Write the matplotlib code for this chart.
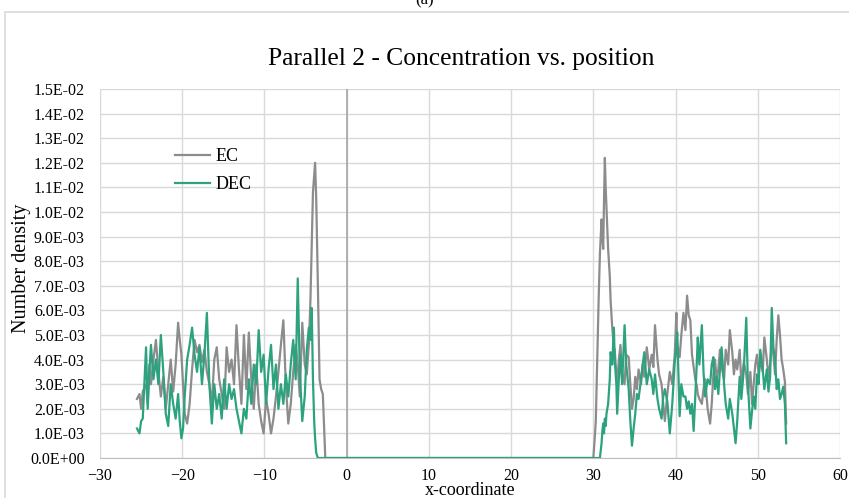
import numpy as np
import matplotlib
matplotlib.use("Agg")
import matplotlib.pyplot as plt
from matplotlib.patches import Rectangle

plt.rcParams['font.family'] = ['Liberation Serif', 'DejaVu Serif']

# values in units of 1E-03
left_x = [-25.5, -25.2, -25.0, -24.8, -24.4, -24.2, -24.0, -23.8, -23.5, -23.2,
          -22.9, -22.6, -22.3, -22.0, -21.7, -21.4, -21.1, -20.8, -20.5, -20.3,
          -20.1, -19.9, -19.7, -19.4, -19.1, -18.8, -18.5, -18.2, -17.9, -17.6,
          -17.3, -17.0, -16.7, -16.4, -16.1, -15.8, -15.5, -15.2, -14.9, -14.6,
          -14.3, -14.0, -13.7, -13.4, -13.1, -12.8, -12.5, -12.2, -11.9, -11.6,
          -11.3, -11.0, -10.7, -10.4, -10.1, -9.8, -9.5, -9.2, -8.9, -8.6,
          -8.3, -8.0, -7.7, -7.4, -7.1, -6.8, -6.5, -6.2, -5.95, -5.7,
          -5.4, -5.1, -4.85, -4.6, -4.4, -4.25, -4.1, -3.95, -3.84, -3.7,
          -3.5, -3.3, -3.1, -2.9, -2.6]
left_ec = [2.4, 2.6, 2.0, 2.7, 3.0, 2.2, 3.8, 3.0, 4.0, 4.8,
           3.5, 2.5, 3.3, 2.0, 3.0, 4.0, 2.7, 3.8, 5.5, 4.8,
           4.2, 3.0, 1.8, 1.4, 2.2, 3.6, 4.8, 4.3, 4.6, 3.9,
           4.4, 3.5, 3.0, 2.2, 4.0, 4.5, 3.2, 2.6, 2.0, 4.5,
           3.5, 4.0, 3.0, 5.4, 3.6, 2.2, 5.0, 2.8, 5.1, 3.2,
           2.0, 3.8, 2.2, 1.5, 1.0, 2.4, 1.8, 1.0, 1.6, 2.5,
           3.5, 4.6, 5.6, 3.0, 1.4, 2.2, 3.5, 4.6, 3.8, 2.5,
           5.5, 3.8, 3.4, 4.6, 6.5, 8.7, 10.8, 11.5, 12.0, 10.5,
           7.0, 3.2, 2.8, 2.6, 0.0]
left_dec = [1.2, 1.0, 1.5, 1.6, 4.5, 2.0, 3.5, 4.6, 3.2, 4.0,
            3.0, 5.0, 3.5, 1.8, 1.3, 3.0, 2.2, 1.6, 2.6, 1.5,
            0.8, 1.2, 2.5, 4.0, 4.6, 5.3, 4.2, 3.5, 4.5, 3.0,
            4.2, 5.9, 3.0, 1.4, 3.0, 2.0, 2.6, 1.6, 3.2, 2.0,
            3.0, 2.4, 2.8, 2.0, 1.5, 1.0, 2.0, 1.6, 3.2, 2.2,
            3.8, 3.0, 5.2, 3.5, 4.2, 2.2, 3.6, 4.6, 2.8, 3.8,
            2.0, 3.0, 2.2, 3.4, 2.5, 3.8, 4.8, 3.2, 7.3, 3.5,
            1.5, 2.5, 4.4, 5.3, 4.8, 6.1, 3.2, 1.5, 0.8, 0.2,
            0.0, 0.0, 0.0, 0.0, 0.0]

right_x = [30.0, 30.15, 30.3, 30.5, 30.65, 30.8, 31.0, 31.1, 31.2, 31.3,
           31.4, 31.5, 31.6, 31.8, 32.0, 32.1, 32.3, 32.5, 32.6, 32.8,
           32.9, 33.1, 33.3, 33.5, 33.8, 34.0, 34.3, 34.5, 34.7, 34.9,
           35.1, 35.3, 35.5, 35.8, 36.0, 36.2, 36.5, 36.8, 37.1, 37.3,
           37.5, 37.8, 38.0, 38.3, 38.5, 38.7, 39.0, 39.3, 39.6, 39.9,
           40.1, 40.2, 40.5, 40.7, 40.96, 41.2, 41.4, 41.6, 41.8, 42.0,
           42.2, 42.4, 42.6, 42.7, 42.9, 43.2, 43.4, 43.6, 43.9, 44.2,
           44.4, 44.6, 44.8, 45.0, 45.2, 45.4, 45.6, 45.9, 46.1, 46.4,
           46.6, 46.9, 47.1, 47.3, 47.5, 47.8, 48.0, 48.3, 48.6, 48.8,
           49.1, 49.3, 49.5, 49.7, 49.9, 50.1, 50.3, 50.6, 50.8, 51.1,
           51.3, 51.5, 51.7, 51.9, 52.1, 52.3, 52.5, 52.7, 52.9, 53.1,
           53.3, 53.45]
right_ec = [0.0, 0.7, 1.5, 4.4, 6.5, 8.3, 9.7, 9.0, 8.5, 10.5,
            12.2, 11.0, 10.2, 8.5, 7.4, 6.4, 5.3, 4.5, 4.4, 3.4,
            3.0, 4.0, 4.6, 3.5, 3.0, 4.2, 4.1, 3.0, 2.0, 2.4,
            3.3, 2.8, 3.6, 3.0, 3.8, 3.3, 4.5, 3.6, 4.2, 3.7,
            5.4, 4.0, 3.4, 3.0, 2.2, 1.5, 2.6, 3.5, 3.0, 4.2,
            5.9, 4.6, 4.1, 5.0, 5.9, 5.2, 6.6, 5.8, 5.6, 4.2,
            3.7, 3.2, 2.9, 2.6, 2.4, 2.2, 2.8, 3.2, 2.0, 1.4,
            2.2, 3.4, 4.0, 3.2, 3.6, 4.4, 3.7, 3.2, 4.4, 3.8,
            5.2, 4.3, 3.4, 4.0, 3.6, 4.4, 3.0, 3.9, 3.4, 2.6,
            3.5, 2.2, 3.0, 3.8, 4.2, 3.4, 4.0, 3.5, 4.9, 4.0,
            3.3, 3.8, 4.6, 4.2, 3.4, 4.8, 5.8, 5.0, 4.0, 3.6,
            3.1, 1.4]
right_dec = [0.0, 0.0, 0.0, 0.0, 0.0, 0.0, 0.6, 1.1, 1.4, 1.0,
             1.6, 1.3, 1.8, 2.2, 3.2, 4.3, 3.8, 5.3, 4.0, 3.0,
             1.8, 3.2, 4.2, 3.0, 5.4, 3.8, 2.8, 1.5, 0.5, 1.2,
             1.8, 2.6, 2.4, 3.2, 3.8, 4.3, 3.0, 3.6, 3.2, 2.6,
             3.4, 2.4, 2.0, 1.6, 2.5, 2.8, 2.3, 1.0, 2.2, 3.9,
             4.5, 5.1, 1.7, 3.0, 2.5, 2.5, 2.0, 2.3, 1.8, 2.2,
             1.1, 2.5, 4.0, 4.9, 3.8, 5.4, 3.5, 2.5, 3.2, 3.0,
             3.8, 4.1, 2.8, 3.3, 2.6, 3.6, 4.5, 3.0, 2.2, 1.6,
             2.4, 1.8, 1.2, 0.6, 1.5, 3.3, 2.4, 3.6, 5.7, 3.0,
             1.2, 1.9, 2.5, 2.0, 3.4, 3.0, 4.4, 3.6, 2.8, 3.6,
             2.7, 3.3, 6.1, 4.5, 4.0, 2.8, 3.2, 2.4, 2.6, 2.9,
             2.2, 0.6]

x_all = np.array(left_x + right_x)
ec = np.array(left_ec + right_ec) * 1e-3
dec = np.array(left_dec + right_dec) * 1e-3

fig = plt.figure(figsize=(8.49, 4.98), dpi=100)
ax = fig.add_axes([100 / 849, 40 / 498, 740 / 849, 369 / 498])

# chart area border
fig.patches.append(Rectangle((5 / 849, -0.1), 1.2, (498 - 12) / 498 + 0.1,
                             transform=fig.transFigure, fill=False,
                             edgecolor='#d9d9d9', linewidth=1.2))
fig.text(0.5, 1 - 4 / 498, '(a)', ha='center', va='baseline', fontsize=12)

ax.plot(x_all, ec, color='#8c8c8c', lw=1.6, label='EC', zorder=3)
ax.plot(x_all, dec, color='#2ca27e', lw=1.6, label='DEC', zorder=4)

ax.set_xlim(-30, 60)
ax.set_ylim(0, 0.015)
ax.set_xticks(np.arange(-30, 61, 10))
ax.set_yticks(np.arange(0, 0.0151, 0.001))
ax.set_yticklabels(['%.1E' % v for v in np.arange(0, 0.0151, 0.001)])
ax.grid(True, color='#d9d9d9', lw=1.0, zorder=0)
ax.set_axisbelow(True)
ax.axvline(0, color='#a6a6a6', lw=1.2, zorder=2)
for s in ['top', 'right', 'left']:
    ax.spines[s].set_visible(False)
ax.spines['bottom'].set_color('#bfbfbf')
ax.tick_params(length=0, labelsize=11.5, colors='black')
ax.tick_params(axis='x', pad=7)
ax.tick_params(axis='y', pad=11)

ax.set_title('Parallel 2 - Concentration vs. position', fontsize=18.4, pad=17,
             x=0.488)
ax.set_ylabel('Number density', fontsize=14.5, labelpad=0)
ax.yaxis.set_label_coords(-0.093, 0.515)
fig.text(0.5 * (100 + 840) / 849, 3 / 498, 'x-coordinate', ha='center',
         va='baseline', fontsize=13)

ax.legend(loc='upper left', bbox_to_anchor=(0.101, 0.84), frameon=False,
          borderaxespad=0, borderpad=0, fontsize=13, handlelength=1.95,
          labelspacing=0.62, handletextpad=0.3)

fig.savefig('out.png', dpi=100)
